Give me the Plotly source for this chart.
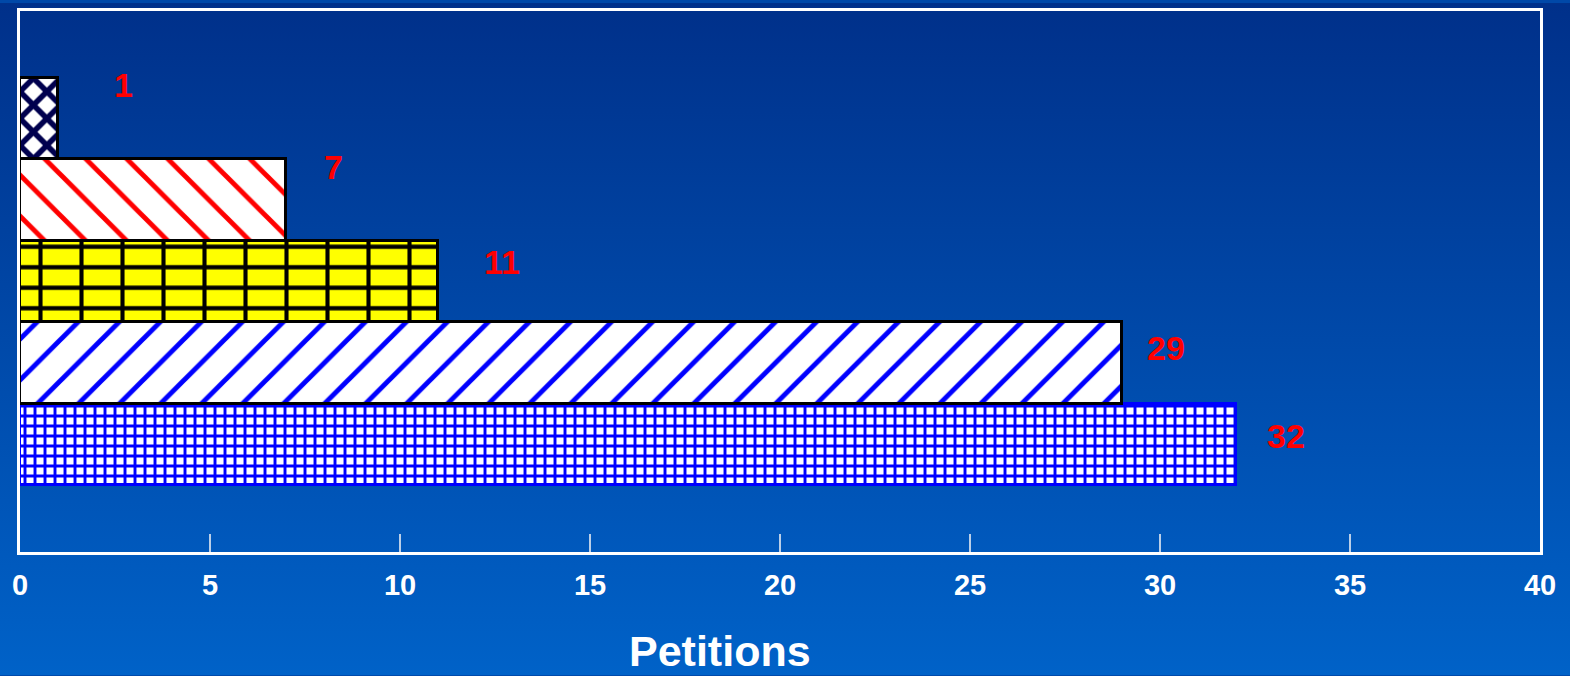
import base64
import plotly.graph_objects as go

# ---------------- data ----------------
values = [32, 29, 11, 7, 1]              # bottom -> top
value_labels = ["32", "29", "11", "7", "1"]
tick_values = [0, 5, 10, 15, 20, 25, 30, 35, 40]
tick_labels = ["0", "5", "10", "15", "20", "25", "30", "35", "40"]
axis_title = "Petitions"

# ---------------- styles ----------------
pat_shape = ["+", "/", "-", "\\", "x"]
pat_fg = ["#0000ff", "#0000ff", "#000000", "#ff0000", "#00004e"]
pat_bg = ["#ffffff", "#ffffff", "#ffff00", "#ffffff", "#ffffff"]
pat_size = [10, 29, 20.5, 29, 19]
pat_solid = [0.5, 0.17, 0.21, 0.17, 0.5]
edge_color = ["#0000ff", "#000000", "#000000", "#000000", "#000000"]
brick_index = 2
label_xshift = [50, 44, 64, 47, 65]
label_yshift = [9, 15, 20, 33, 33]

positions = list(range(len(values)))

W, H = 1570, 676
ml, mr, mt, mb = 20, 30, 8, 124
pw, ph = W - ml - mr, H - mt - mb

svg = (
    "<svg xmlns='http://www.w3.org/2000/svg' width='100' height='100' preserveAspectRatio='none'>"
    "<defs><linearGradient id='g' x1='0' y1='0' x2='0' y2='1'>"
    "<stop offset='0' stop-color='#00308a'/><stop offset='1' stop-color='#0062c8'/>"
    "</linearGradient></defs><rect width='100' height='100' fill='url(#g)'/></svg>"
)
bg_src = "data:image/svg+xml;base64," + base64.b64encode(svg.encode()).decode()

fig = go.Figure()
for i, (v, p) in enumerate(zip(values, positions)):
    fig.add_trace(go.Bar(
        x=[v], y=[p], orientation="h", width=1,
        marker=dict(
            color=pat_bg[i],
            line=dict(color=edge_color[i], width=3),
            pattern=dict(shape=pat_shape[i], fgcolor=pat_fg[i], bgcolor=pat_bg[i],
                         size=pat_size[i], solidity=pat_solid[i], fillmode="replace"),
        ),
        hoverinfo="skip", showlegend=False,
    ))
# vertical mortar lines for the brick bar
fig.add_trace(go.Bar(
    x=[values[brick_index]], y=[positions[brick_index]], orientation="h", width=1,
    marker=dict(
        color="rgba(0,0,0,0)",
        line=dict(color="#000000", width=3),
        pattern=dict(shape="|", fgcolor="#000000", bgcolor="rgba(0,0,0,0)",
                     size=41, solidity=0.1, fillmode="replace"),
    ),
    hoverinfo="skip", showlegend=False,
))

for v, p, t, dx, dy in zip(values, positions, value_labels, label_xshift, label_yshift):
    fig.add_annotation(x=v, y=p, xref="x", yref="y", text=t, showarrow=False,
                       xshift=dx, yshift=dy, xanchor="center", yanchor="middle",
                       font=dict(family="Liberation Sans, Arial", size=34,
                                 color="#ff0000", weight="bold"))

fig.add_annotation(x=(720 - ml) / pw, y=(ph - (652 - mt)) / ph, xref="paper", yref="paper",
                   text=axis_title, showarrow=False, xanchor="center", yanchor="middle",
                   font=dict(family="Liberation Sans, Arial", size=43,
                             color="#ffffff", weight="bold"))

fig.add_layout_image(dict(
    source=bg_src, xref="paper", yref="paper",
    x=-ml / pw, y=1 + mt / ph, sizex=W / pw, sizey=H / ph,
    xanchor="left", yanchor="top", sizing="stretch", layer="below",
))

fig.update_layout(
    width=W, height=H,
    margin=dict(l=ml, r=mr, t=mt, b=mb),
    paper_bgcolor="#0048a8", plot_bgcolor="rgba(0,0,0,0)",
    barmode="overlay", bargap=0,
    showlegend=False,
    xaxis=dict(range=[0, 40], tickvals=tick_values, ticktext=tick_labels,
               ticks="inside", ticklen=18, tickwidth=1.5, tickcolor="rgba(220,228,240,0.85)",
               showline=True, linecolor="#ffffff", linewidth=2.5, mirror=True,
               showgrid=False, zeroline=False, ticklabelstandoff=5,
               tickfont=dict(family="Liberation Sans, Arial", size=29,
                             color="#ffffff", weight="bold")),
    yaxis=dict(range=[-1.317, 5.317], showticklabels=False, ticks="",
               showline=True, linecolor="#ffffff", linewidth=2.5, mirror=True,
               showgrid=False, zeroline=False),
)

fig.write_html("out.html", config={"displayModeBar": False},
               post_script="document.body.style.margin='0px';")
